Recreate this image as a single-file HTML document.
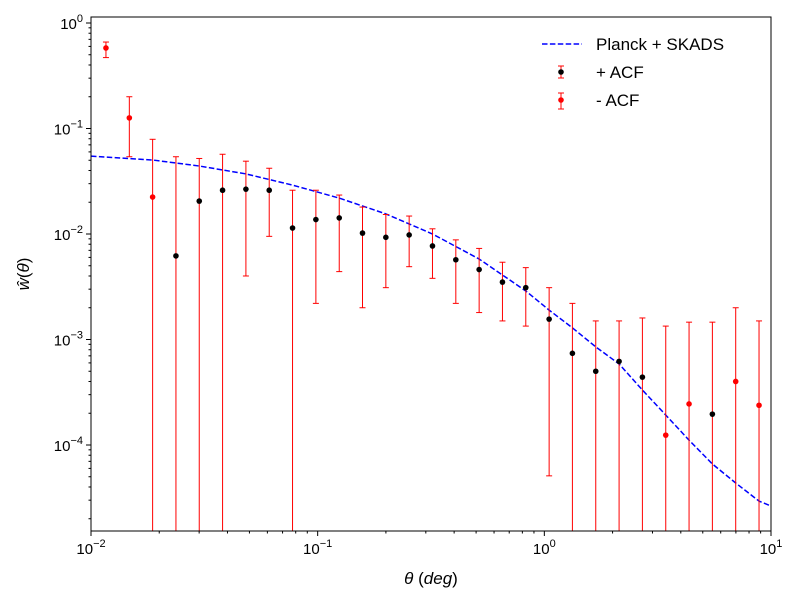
<!DOCTYPE html>
<html><head><meta charset="utf-8"><style>
html,body{margin:0;padding:0;background:#fff;width:800px;height:600px;overflow:hidden;position:relative;}
svg{display:block;font-family:"Liberation Sans","DejaVu Sans",sans-serif;}
</style></head><body>
<svg id="chart" width="800" height="600" style="position:absolute;left:0;top:0" xmlns="http://www.w3.org/2000/svg"></svg>
<script>
const theta=[0.01164,0.01476,0.01870,0.02370,0.03003,0.03806,0.04824,0.06113,0.07747,0.09820,0.1245,0.1577,0.1999,0.2533,0.3210,0.4069,0.5157,0.6535,0.8283,1.050,1.330,1.686,2.137,2.708,3.433,4.350,5.513,6.987,8.855];
const wVal=[0.58,0.126,0.0224,0.0062,0.0205,0.026,0.0266,0.026,0.0114,0.0137,0.0142,0.0102,0.0093,0.0098,0.0077,0.0057,0.0046,0.0035,0.0031,0.00156,0.00074,0.00050,0.00062,0.00044,0.000124,0.000245,0.000196,0.000400,0.000238];
const errHi=[0.66,0.20,0.079,0.054,0.052,0.057,0.049,0.042,0.026,0.026,0.0234,0.018,0.0153,0.0148,0.0112,0.0088,0.0073,0.0054,0.0048,0.0031,0.0022,0.0015,0.0015,0.0016,0.00134,0.00146,0.00146,0.0020,0.0015];
const errLo=[0.47,0.054,1e-6,1e-6,1e-6,1e-6,0.0040,0.0095,1e-6,0.0022,0.0044,0.0020,0.0031,0.0049,0.0038,0.0022,0.0018,0.0015,0.00134,0.000051,1e-6,1e-6,1e-6,1e-6,1e-6,1e-6,1e-6,1e-6,1e-6];
const isNeg=[1,1,1,0,0,0,0,0,0,0,0,0,0,0,0,0,0,0,0,0,0,0,0,0,1,1,0,1,1];
const modelTheta=[0.01,0.01870,0.03003,0.04824,0.07747,0.1245,0.1999,0.3210,0.5157,0.8283,1.050,1.330,1.686,2.137,2.708,3.433,4.350,5.513,6.987,8.855,10];
const modelW=[0.0548,0.0503,0.0441,0.0371,0.0291,0.0219,0.0155,0.0100,0.0058,0.00288,0.00190,0.00129,0.00085,0.000586,0.000332,0.000192,0.000111,0.000066,0.0000436,0.0000294,0.0000264];
const xTicks=[-2,-1,0,1];
const yTicks=[0,-1,-2,-3,-4];

const L=91,R=771,T=17,B=531;
const sx=v=>L+(Math.log10(v)+2)*(R-L)/3;
const sy=v=>23-105.5*Math.log10(v);
const svg=document.getElementById('chart');
const NS='http://www.w3.org/2000/svg';
function mk(tag,attrs,parent){const e=document.createElementNS(NS,tag);for(const k in attrs)e.setAttribute(k,attrs[k]);(parent||svg).appendChild(e);return e;}
const clip=mk('clipPath',{id:'pc'});mk('rect',{x:L,y:T,width:R-L,height:B-T},clip);

xTicks.forEach(d=>{
  const x=sx(Math.pow(10,d));
  const t=mk('line',{x1:x,x2:x,y1:B,y2:B+5,stroke:'#000'});
  
  
  const tx=mk('text',{x:x,y:B+23,'text-anchor':'middle','font-size':'15'});
  
  
  tx.innerHTML='10<tspan dy="-7" font-size="11">'+(d<0?'\u2212'+(-d):d)+'</tspan>';
  if(d<1)for(let m=2;m<10;m++){const xm=sx(m*Math.pow(10,d));mk('line',{x1:xm,x2:xm,y1:B,y2:B+2.5,stroke:'#000'});}
});
yTicks.forEach(d=>{
  const y=sy(Math.pow(10,d));
  const t=mk('line',{x1:L-5,x2:L,y1:y,y2:y,stroke:'#000'});
  
  
  const tx=mk('text',{x:L-8,y:y+6,'text-anchor':'end','font-size':'15'});
  
  
  tx.innerHTML='10<tspan dy="-7" font-size="11">'+(d<0?'\u2212'+(-d):d)+'</tspan>';
});
for(let d=-5;d<1;d++)for(let m=2;m<10;m++){const y=sy(m*Math.pow(10,d));if(y>T&&y<B)mk('line',{x1:L-2.5,x2:L,y1:y,y2:y,stroke:'#000'});}

const pts=modelTheta.map((t,i)=>sx(t).toFixed(1)+','+sy(modelW[i]).toFixed(1)).join(' ');
const ml=mk('polyline',{points:pts,fill:'none',stroke:'#0000ff','stroke-width':1.5,'stroke-dasharray':'5.5,2.4','clip-path':'url(#pc)'});



theta.forEach((t,i)=>{
  const x=sx(t),g=mk('g',{'clip-path':'url(#pc)'});
  
  
  const yh=sy(errHi[i]),yl=sy(errLo[i]);
  mk('line',{x1:x,x2:x,y1:yh,y2:yl,stroke:'#ff0000','stroke-width':1},g);
  mk('line',{x1:x-3,x2:x+3,y1:yh,y2:yh,stroke:'#ff0000'},g);
  mk('line',{x1:x-3,x2:x+3,y1:yl,y2:yl,stroke:'#ff0000'},g);
  mk('circle',{cx:x,cy:sy(wVal[i]),r:2.8,fill:isNeg[i]?'#ff0000':'#000'},g);
});

const fr=mk('rect',{x:L,y:T,width:R-L,height:B-T,fill:'none',stroke:'#000','stroke-width':1});


</script>
<svg style="position:absolute;left:0;top:0" width="800" height="600" xmlns="http://www.w3.org/2000/svg">
<g font-size="17">
  <g>
    <line x1="542" x2="582" y1="44" y2="44" stroke="#0000ff" stroke-width="1.5" stroke-dasharray="5.5,2.4"/>
    <text x="596" y="50">Planck + SKADS</text>
  </g>
  <g>
    <line x1="561" x2="561" y1="66" y2="78" stroke="#ff0000"/><line x1="558" x2="564" y1="66" y2="66" stroke="#ff0000"/><line x1="558" x2="564" y1="78" y2="78" stroke="#ff0000"/>
    <circle cx="561" cy="72" r="2.8" fill="#000"/>
    <text x="596" y="78">+ ACF</text>
  </g>
  <g>
    <line x1="561" x2="561" y1="93" y2="109" stroke="#ff0000"/><line x1="558" x2="564" y1="93" y2="93" stroke="#ff0000"/><line x1="558" x2="564" y1="109" y2="109" stroke="#ff0000"/>
    <circle cx="561" cy="100" r="2.8" fill="#ff0000"/>
    <text x="596" y="106">- ACF</text>
  </g>
</g>
<text x="431" y="584" text-anchor="middle" font-size="17"><tspan font-style="italic">θ</tspan> (<tspan font-style="italic">deg</tspan>)</text>
<text transform="translate(29,274) rotate(-90)" text-anchor="middle" font-size="17"><tspan font-style="italic">ŵ</tspan>(<tspan font-style="italic">θ</tspan>)</text>
</svg>
</body></html>
